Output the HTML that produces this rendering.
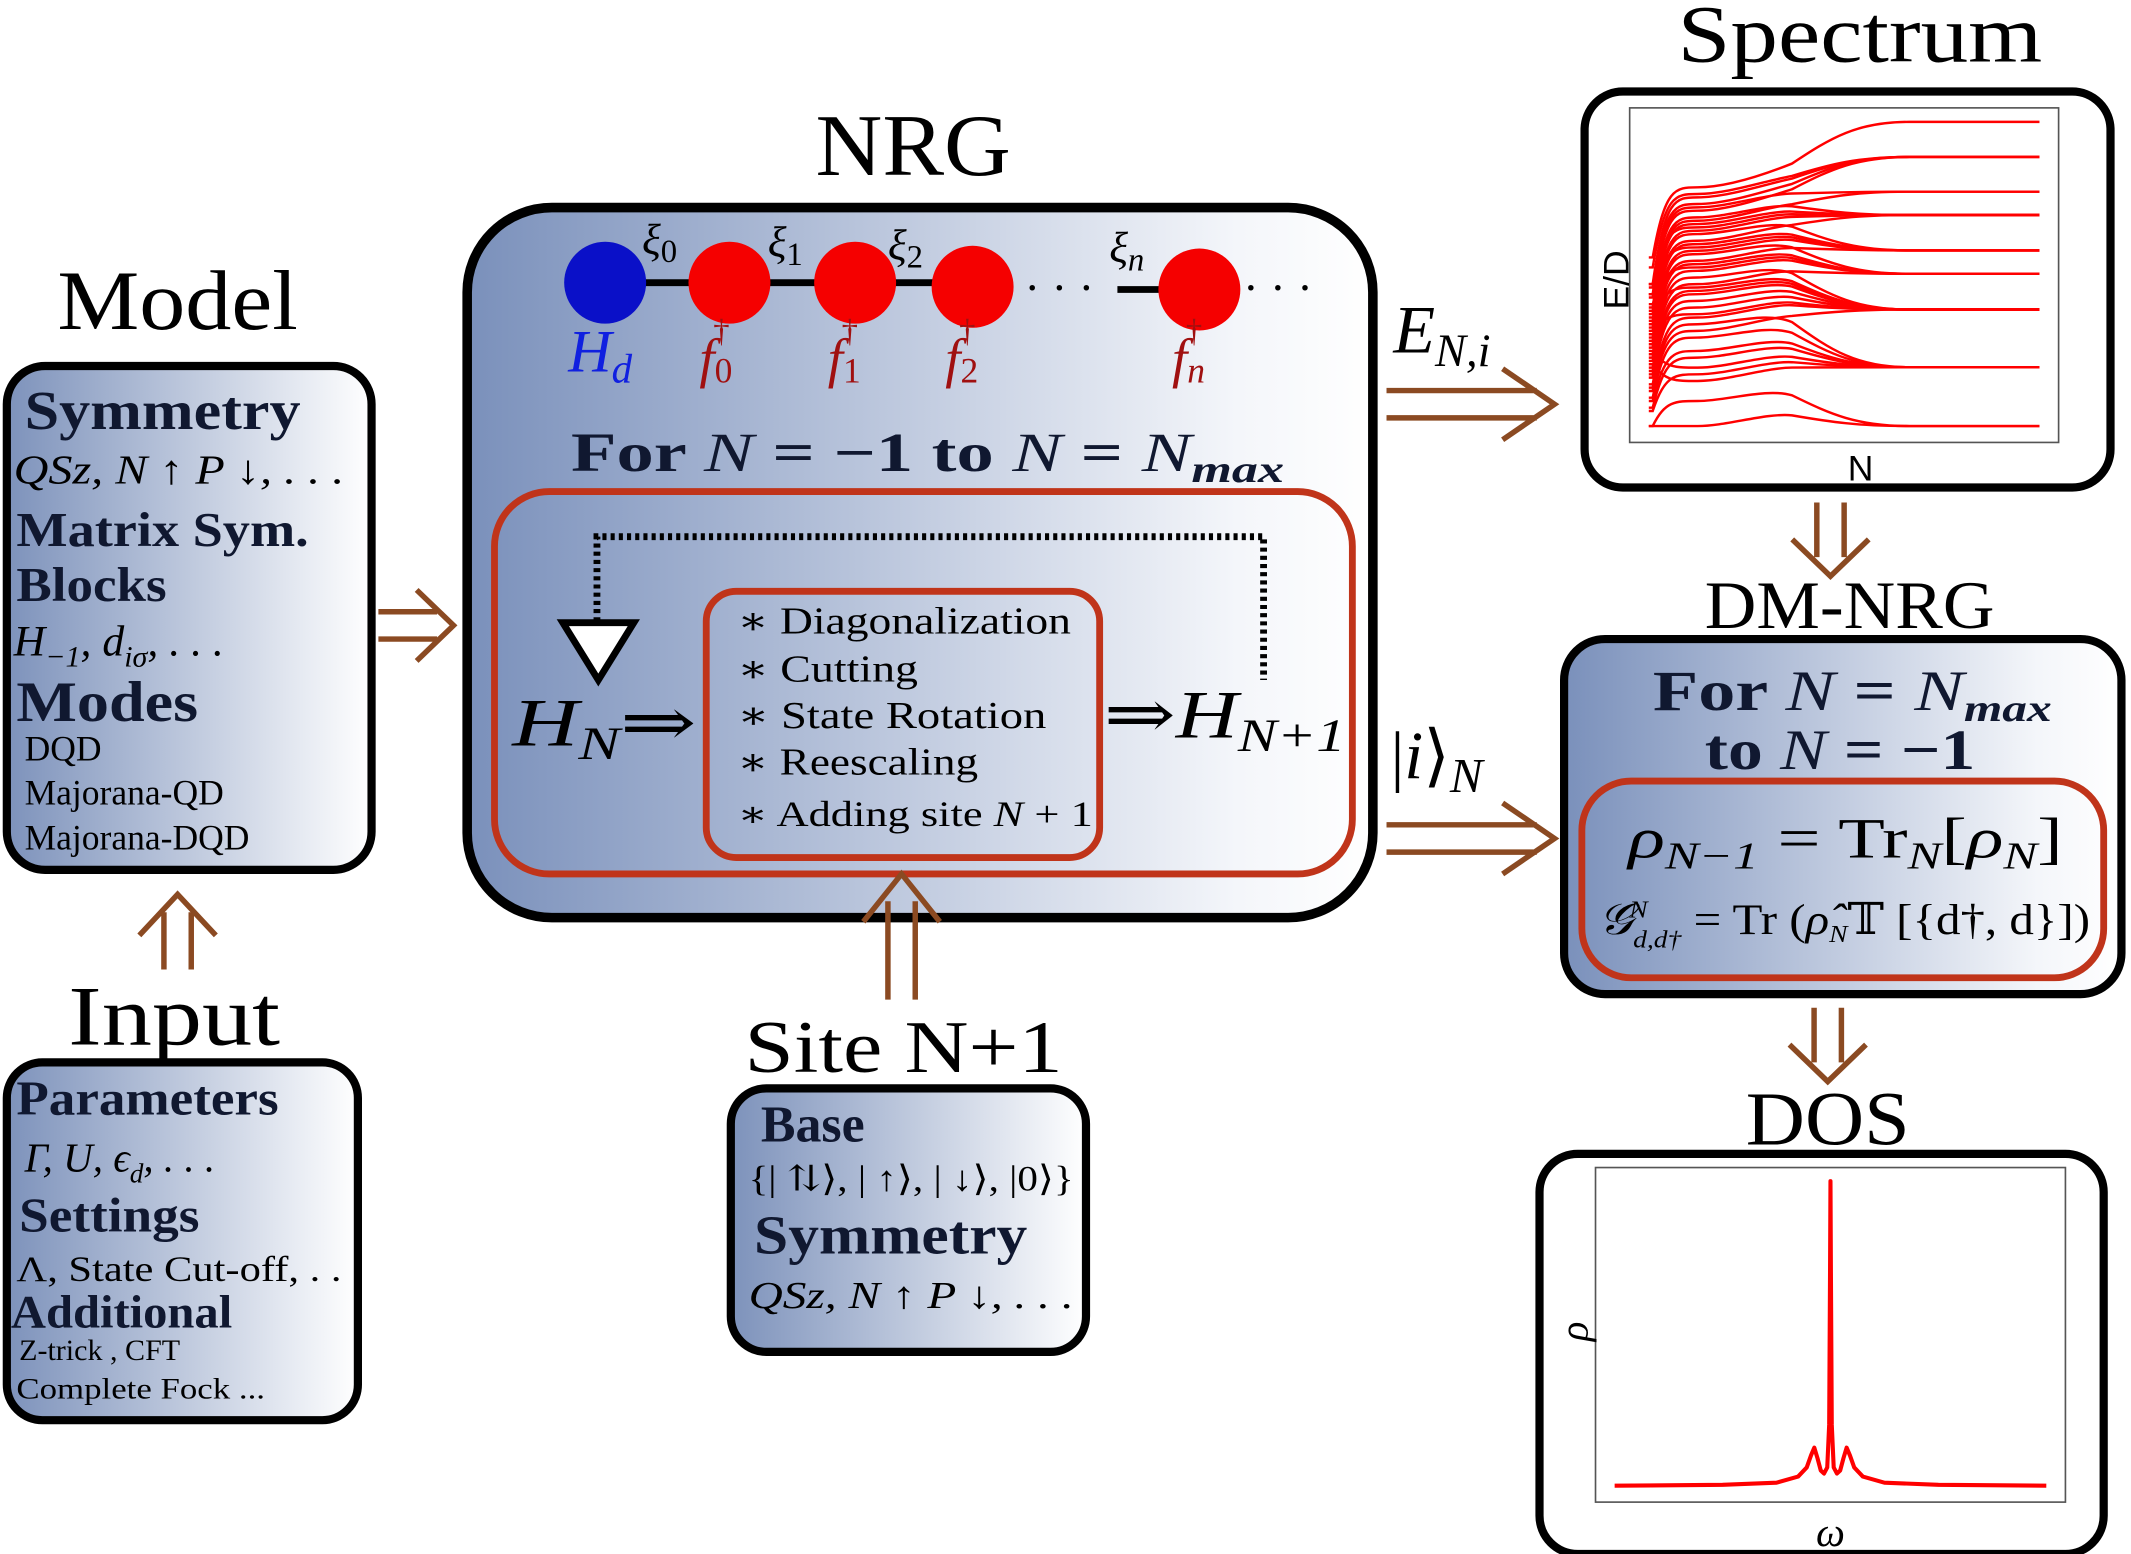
<!DOCTYPE html>
<html><head><meta charset="utf-8"><style>
html,body{margin:0;padding:0;background:#fff;}
svg{display:block;}
text{font-family:"Liberation Serif","DejaVu Serif",serif;fill:#000;}
.it{font-style:italic;}
.sans{font-family:"Liberation Sans","DejaVu Sans",sans-serif;}
.bd{font-weight:bold;fill:#101830;}
</style></head><body>
<svg id="root" width="2131" height="1554" viewBox="0 0 1560 1138" preserveAspectRatio="none">
<defs>
<linearGradient id="g1" x1="0" x2="1" y1="0" y2="0"><stop offset="0" stop-color="#7d92bb"/><stop offset="1" stop-color="#ffffff"/></linearGradient>
<linearGradient id="g2" x1="0" x2="1" y1="0" y2="0"><stop offset="0" stop-color="#7a90bb"/><stop offset="0.85" stop-color="#f4f6fa"/><stop offset="1" stop-color="#ffffff"/></linearGradient>
</defs>

<!-- Model -->
<text x="42" y="241" font-size="62" textLength="176" lengthAdjust="spacingAndGlyphs">Model</text>
<rect x="5" y="268" width="267" height="369" rx="28" fill="url(#g1)" stroke="#000" stroke-width="6"/>
<text x="18" y="314" font-size="40" class="bd" textLength="202" lengthAdjust="spacingAndGlyphs">Symmetry</text>
<text x="10" y="354" font-size="30" class="it" textLength="242" lengthAdjust="spacingAndGlyphs">QSz, N ↑ P ↓, . . .</text>
<text x="12" y="400" font-size="36" class="bd" textLength="214" lengthAdjust="spacingAndGlyphs">Matrix Sym.</text>
<text x="12" y="440" font-size="36" class="bd" textLength="110" lengthAdjust="spacingAndGlyphs">Blocks</text>
<text x="10" y="480" font-size="32" class="it">H<tspan font-size="22" dy="8">−1</tspan><tspan dy="-8">, d</tspan><tspan font-size="22" dy="8">iσ</tspan><tspan dy="-8">, . . .</tspan></text>
<text x="12" y="528" font-size="42" class="bd" textLength="133" lengthAdjust="spacingAndGlyphs">Modes</text>
<text x="18" y="557" font-size="26">DQD</text>
<text x="18" y="589" font-size="26">Majorana-QD</text>
<text x="18" y="622" font-size="26">Majorana-DQD</text>

<!-- Input -->
<text x="50" y="765" font-size="62" textLength="155" lengthAdjust="spacingAndGlyphs">Input</text>
<rect x="5" y="778" width="257" height="262" rx="26" fill="url(#g1)" stroke="#000" stroke-width="6"/>
<text x="12" y="816" font-size="36" class="bd" textLength="192" lengthAdjust="spacingAndGlyphs">Parameters</text>
<text x="18" y="858" font-size="30" class="it">Γ, U, ϵ<tspan font-size="20" dy="8">d</tspan><tspan dy="-8">, . . .</tspan></text>
<text x="14" y="902" font-size="36" class="bd" textLength="132" lengthAdjust="spacingAndGlyphs">Settings</text>
<text x="12" y="938" font-size="26" textLength="238" lengthAdjust="spacingAndGlyphs">Λ, State Cut-off, . .</text>
<text x="8" y="972" font-size="34" class="bd" textLength="162" lengthAdjust="spacingAndGlyphs">Additional</text>
<text x="14" y="996" font-size="22">Z-trick , CFT</text>
<text x="12" y="1024" font-size="22" textLength="182" lengthAdjust="spacingAndGlyphs">Complete Fock ...</text>

<!-- NRG -->
<text x="597" y="128" font-size="64" textLength="143" lengthAdjust="spacingAndGlyphs">NRG</text>
<rect x="342" y="152" width="663" height="520" rx="62" fill="url(#g2)" stroke="#000" stroke-width="7"/>
<g>
<path d="M443 207 H740 M818 212 H850" stroke="#000" stroke-width="5"/>
<circle cx="443" cy="207" r="30" fill="#0a10c8"/>
<circle cx="534" cy="207" r="30" fill="#f50000"/>
<circle cx="626" cy="207" r="30" fill="#f50000"/>
<circle cx="712" cy="210" r="30" fill="#f50000"/>
<circle cx="878" cy="212" r="30" fill="#f50000"/>
<text x="750" y="222" font-size="34">· · ·</text>
<text x="910" y="222" font-size="34">· · ·</text>
<text x="470" y="186" font-size="32" class="it">ξ<tspan font-size="24" dy="6" font-style="normal">0</tspan></text>
<text x="562" y="188" font-size="32" class="it">ξ<tspan font-size="24" dy="6" font-style="normal">1</tspan></text>
<text x="650" y="190" font-size="32" class="it">ξ<tspan font-size="24" dy="6" font-style="normal">2</tspan></text>
<text x="812" y="192" font-size="32" class="it">ξ<tspan font-size="24" dy="6">n</tspan></text>
<text x="416" y="272" font-size="44" class="it" style="fill:#1020e0">H<tspan font-size="30" dy="8" style="fill:#1020e0">d</tspan></text>
<text x="512" y="276" font-size="40" class="it" style="fill:#a01010">f<tspan font-size="26" dy="4" font-style="normal" style="fill:#a01010">0</tspan><tspan font-size="24" dx="-14" dy="-30" font-style="normal" style="fill:#a01010">†</tspan></text>
<text x="606" y="276" font-size="40" class="it" style="fill:#a01010">f<tspan font-size="26" dy="4" font-style="normal" style="fill:#a01010">1</tspan><tspan font-size="24" dx="-14" dy="-30" font-style="normal" style="fill:#a01010">†</tspan></text>
<text x="692" y="276" font-size="40" class="it" style="fill:#a01010">f<tspan font-size="26" dy="4" font-style="normal" style="fill:#a01010">2</tspan><tspan font-size="24" dx="-14" dy="-30" font-style="normal" style="fill:#a01010">†</tspan></text>
<text x="858" y="276" font-size="40" class="it" style="fill:#a01010">f<tspan font-size="26" dy="4" style="fill:#a01010">n</tspan><tspan font-size="24" dx="-14" dy="-30" font-style="normal" style="fill:#a01010">†</tspan></text>
</g>
<text x="418" y="345" font-size="40" class="bd" textLength="522" lengthAdjust="spacingAndGlyphs">For <tspan class="it" font-weight="normal">N</tspan> = −1 to  <tspan class="it" font-weight="normal">N</tspan> = <tspan class="it" font-weight="normal">N</tspan><tspan font-size="28" dy="8" class="it">max</tspan></text>
<rect x="362" y="360" width="628" height="280" rx="40" fill="none" stroke="#c0341a" stroke-width="5"/>
<path d="M437 455 V393 H925 V498" fill="none" stroke="#000" stroke-width="5" stroke-dasharray="3 3"/>
<path d="M412 456 H464 L438 498 Z" fill="#fff" stroke="#000" stroke-width="5"/>
<text x="375" y="546" font-size="50" class="it" textLength="135" lengthAdjust="spacingAndGlyphs">H<tspan font-size="34" dy="10">N</tspan><tspan dy="-10" font-style="normal">⇒</tspan></text>
<text x="808" y="540" font-size="50" class="it" textLength="177" lengthAdjust="spacingAndGlyphs"><tspan font-style="normal">⇒</tspan>H<tspan font-size="34" dy="10">N+1</tspan></text>
<rect x="517" y="433" width="288" height="195" rx="22" fill="none" stroke="#c0341a" stroke-width="5"/>
<g font-size="28">
<text x="540" y="464" font-size="28" textLength="244" lengthAdjust="spacingAndGlyphs">∗ Diagonalization</text>
<text x="540" y="499" font-size="28" textLength="132" lengthAdjust="spacingAndGlyphs">∗ Cutting</text>
<text x="540" y="533" font-size="28" textLength="226" lengthAdjust="spacingAndGlyphs">∗ State Rotation</text>
<text x="540" y="567" font-size="28" textLength="176" lengthAdjust="spacingAndGlyphs">∗ Reescaling</text>
<text x="540" y="605" font-size="26" textLength="260" lengthAdjust="spacingAndGlyphs">∗ Adding site <tspan class="it">N</tspan> + 1</text>
</g>

<!-- Site N+1 -->
<text x="545" y="785" font-size="54" textLength="233" lengthAdjust="spacingAndGlyphs">Site N+1</text>
<rect x="535" y="797" width="260" height="193" rx="26" fill="url(#g1)" stroke="#000" stroke-width="6"/>
<text x="557" y="836" font-size="38" class="bd">Base</text>
<text x="548" y="872" font-size="26" textLength="238" lengthAdjust="spacingAndGlyphs">{| ⇅⟩, | ↑⟩, | ↓⟩, |0⟩}</text>
<text x="552" y="918" font-size="40" class="bd" textLength="200" lengthAdjust="spacingAndGlyphs">Symmetry</text>
<text x="548" y="958" font-size="28" class="it" textLength="238" lengthAdjust="spacingAndGlyphs">QSz, N ↑ P ↓, . . .</text>

<!-- arrows -->
<g fill="none" stroke="#8b4a22" stroke-width="4">
<path d="M277 448 H320 M277 468 H320 M305 432 L332 458 L305 484"/>
</g>
<g fill="none" stroke="#8b4a22" stroke-width="4">
<path d="M120 710 V668 M140 710 V668 M102 685 L130 655 L158 685"/>
</g>
<g fill="none" stroke="#8b4a22" stroke-width="4">
<path d="M650 732 V660 M670 732 V660 M632 675 L660 640 L688 675"/>
</g>
<g fill="none" stroke="#8b4a22" stroke-width="4">
<path d="M1015 286 H1125 M1015 306 H1125 M1100 270 L1138 296 L1100 322"/>
</g>
<g fill="none" stroke="#8b4a22" stroke-width="4">
<path d="M1015 604 H1125 M1015 624 H1125 M1100 588 L1138 614 L1100 640"/>
</g>
<g fill="none" stroke="#8b4a22" stroke-width="4">
<path d="M1330 368 V408 M1350 368 V408 M1312 395 L1340 422 L1368 395"/>
</g>
<g fill="none" stroke="#8b4a22" stroke-width="4">
<path d="M1328 738 V778 M1348 738 V778 M1310 765 L1338 792 L1366 765"/>
</g>

<!-- Labels on arrows -->
<text x="1020" y="258" font-size="50" class="it">E<tspan font-size="34" dy="10">N,i</tspan></text>
<text x="1018" y="570" font-size="50" class="it"><tspan font-style="normal">|</tspan>i<tspan font-style="normal">⟩</tspan><tspan font-size="36" dy="10">N</tspan></text>

<!-- Spectrum -->
<text x="1228" y="45" font-size="60" textLength="267" lengthAdjust="spacingAndGlyphs">Spectrum</text>
<rect x="1160" y="67" width="385" height="290" rx="28" fill="#fff" stroke="#000" stroke-width="6"/>
<rect x="1193" y="79" width="314" height="245" fill="none" stroke="#555" stroke-width="1.2"/>
<text x="1192" y="205" font-size="26" class="sans" text-anchor="middle" transform="rotate(-90 1192 205)">E/D</text>
<text x="1362" y="352" font-size="26" class="sans" text-anchor="middle">N</text>
<g id="spec"></g>

<!-- DM-NRG -->
<text x="1248" y="460" font-size="50" textLength="212" lengthAdjust="spacingAndGlyphs">DM-NRG</text>
<rect x="1145" y="468" width="408" height="260" rx="30" fill="url(#g2)" stroke="#000" stroke-width="6"/>
<text x="1210" y="520" font-size="42" class="bd" textLength="292" lengthAdjust="spacingAndGlyphs">For <tspan class="it" font-weight="normal">N</tspan> = <tspan class="it" font-weight="normal">N</tspan><tspan font-size="28" dy="8" class="it">max</tspan></text>
<text x="1248" y="563" font-size="42" class="bd" textLength="198" lengthAdjust="spacingAndGlyphs">to <tspan class="it" font-weight="normal">N</tspan> = −1</text>
<rect x="1158" y="572" width="382" height="144" rx="36" fill="none" stroke="#c0341a" stroke-width="5"/>
<text x="1192" y="628" font-size="42" textLength="318" lengthAdjust="spacingAndGlyphs"><tspan class="it">ρ</tspan><tspan font-size="28" dy="8" class="it">N−1</tspan><tspan dy="-8"> = Tr</tspan><tspan font-size="28" dy="8" class="it">N</tspan><tspan dy="-8">[</tspan><tspan class="it">ρ</tspan><tspan font-size="28" dy="8" class="it">N</tspan><tspan dy="-8">]</tspan></text>
<text x="1170" y="684" font-size="32" textLength="360" lengthAdjust="spacingAndGlyphs"><tspan class="it">𝒢</tspan><tspan font-size="18" dy="10" class="it">d,d†</tspan><tspan font-size="18" dx="-34" dy="-22" class="it">N</tspan><tspan dx="22" dy="12"> = Tr (</tspan><tspan class="it">ρ̂</tspan><tspan font-size="18" dy="6" class="it">N</tspan><tspan dy="-6">𝕋 [{d†, d}])</tspan></text>

<!-- DOS -->
<text x="1278" y="838" font-size="56" textLength="120" lengthAdjust="spacingAndGlyphs">DOS</text>
<rect x="1127" y="845" width="413" height="293" rx="28" fill="#fff" stroke="#000" stroke-width="6"/>
<rect x="1168" y="855" width="344" height="245" fill="none" stroke="#555" stroke-width="1.2"/>
<text x="1162" y="975" font-size="30" class="it" text-anchor="middle" transform="rotate(-90 1162 975)">ρ</text>
<text x="1340" y="1132" font-size="30" class="it" text-anchor="middle">ω</text>
<g id="dos"></g>
</svg>
<script>
// Spectrum data: initial energy, plateau energy, final fixed-point level (E/D, 0..1 frame)
const specStart = [0.55,0.52,0.47,0.46,0.44,0.43,0.40,0.39,0.38,0.36,0.35,0.34,0.33,0.31,0.30,0.29,0.28,0.26,0.25,0.24,0.22,0.21,0.20,0.19,0.17,0.16,0.15,0.13,0.12,0.10,0.09,0.045,0.045,0.47,0.44,0.41,0.37,0.32,0.27,0.23];
const specMid   = [0.76,0.74,0.73,0.71,0.70,0.69,0.67,0.66,0.65,0.63,0.62,0.60,0.59,0.57,0.56,0.54,0.53,0.51,0.49,0.47,0.45,0.44,0.42,0.40,0.37,0.35,0.33,0.31,0.27,0.25,0.20,0.12,0.045,0.64,0.58,0.52,0.46,0.38,0.22,0.18];
const specEnd   = [0.956,0.851,0.851,0.851,0.747,0.851,0.677,0.747,0.677,0.677,0.571,0.677,0.571,0.571,0.501,0.571,0.501,0.501,0.394,0.501,0.394,0.394,0.394,0.394,0.394,0.221,0.394,0.221,0.221,0.221,0.221,0.045,0.045,0.677,0.571,0.501,0.394,0.394,0.221,0.221];
const specN = [0,60];
// DOS data
const dosOmega = [-1,-0.5,-0.25,-0.15,-0.11,-0.09,-0.075,-0.06,-0.045,-0.03,-0.015,-0.006,-0.002,0,0.002,0.006,0.015,0.03,0.045,0.06,0.075,0.09,0.11,0.15,0.25,0.5,1];
const dosRho   = [0,0.003,0.01,0.03,0.06,0.1,0.125,0.09,0.05,0.04,0.06,0.2,0.7,1,0.7,0.2,0.06,0.04,0.05,0.09,0.125,0.1,0.06,0.03,0.01,0.003,0];

const NS='http://www.w3.org/2000/svg';
const sx = n => 1207 + (n - specN[0]) / (specN[1]-specN[0]) * (1493-1207);
const sy = e => 323 - e * 244.5;
const spec = document.getElementById('spec');
for (let i = 0; i < specStart.length; i++) {
  const a = specStart[i], m = specMid[i], z = specEnd[i];
  const m2 = m + 0.04;
  const d = `M${sx(0)},${sy(a)} L${sx(0.6)},${sy(a)} C${sx(2.5)},${sy(m)} ${sx(4)},${sy(m)} ${sx(7.5)},${sy(m)} ` +
    `C${sx(12)},${sy(m)} ${sx(18)},${sy(m2)} ${sx(22)},${sy(m2 + (z - m2) * 0.2)} C${sx(28)},${sy(m2 + (z - m2) * 0.7)} ${sx(32)},${sy(z)} ${sx(40)},${sy(z)} L${sx(60)},${sy(z)}`;
  const p = document.createElementNS(NS, 'path');
  p.setAttribute('d', d);
  p.setAttribute('fill', 'none');
  p.setAttribute('stroke', '#ff0000');
  p.setAttribute('stroke-width', '1.8');
  
  
  spec.appendChild(p);
}
const dx = w => 1340 + w * 158;
const dy = r => 1088 - r * 223;
let dd = '';
dosOmega.forEach((w, i) => { dd += (i ? 'L' : 'M') + dx(w) + ',' + dy(dosRho[i]) + ' '; });
const dp = document.createElementNS(NS, 'path');
dp.setAttribute('d', dd);
dp.setAttribute('fill', 'none');
dp.setAttribute('stroke', '#ff0000');
dp.setAttribute('stroke-width', '3');
dp.setAttribute('stroke-linejoin', 'round');


document.getElementById('dos').appendChild(dp);
</script>
</body></html>
